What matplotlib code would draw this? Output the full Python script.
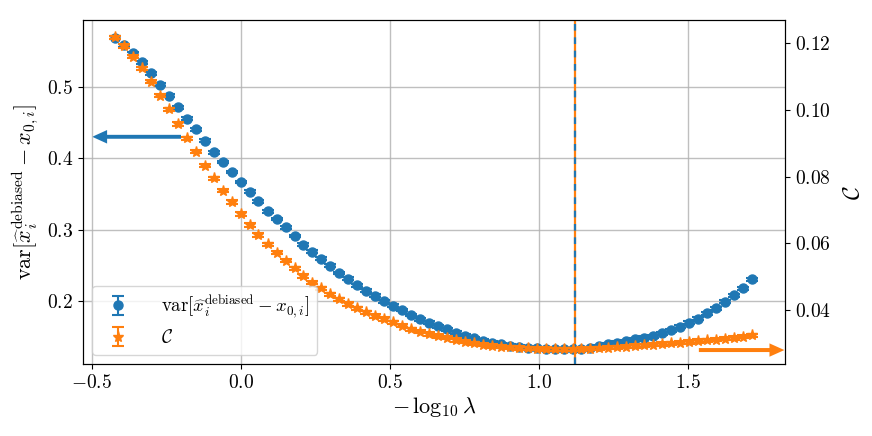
import numpy as np
import matplotlib
matplotlib.use("Agg")
import matplotlib.pyplot as plt
from matplotlib.ticker import FuncFormatter, FixedLocator

plt.rcParams['mathtext.fontset'] = 'cm'
plt.rcParams['font.family'] = ['serif']
plt.rcParams['font.serif'] = ['cmr10', 'DejaVu Serif']
plt.rcParams['axes.unicode_minus'] = False

# -log10(lambda) grid
x = [-0.421, -0.391, -0.361, -0.331, -0.301, -0.271, -0.240, -0.210, -0.180, -0.150,
     -0.120, -0.090, -0.060, -0.030, 0.000, 0.030, 0.060, 0.091, 0.121, 0.151,
     0.181, 0.211, 0.241, 0.271, 0.301, 0.331, 0.361, 0.392, 0.422, 0.452,
     0.482, 0.512, 0.542, 0.572, 0.602, 0.632, 0.662, 0.693, 0.723, 0.753,
     0.783, 0.813, 0.843, 0.873, 0.903, 0.933, 0.963, 0.994, 1.024, 1.054,
     1.084, 1.114, 1.144, 1.174, 1.204, 1.234, 1.264, 1.295, 1.325, 1.355,
     1.385, 1.415, 1.445, 1.475, 1.505, 1.535, 1.565, 1.596, 1.626, 1.656,
     1.686, 1.716]

# var[x_hat^debiased - x0] (left axis)
var_vals = [0.570, 0.559, 0.548, 0.535, 0.520, 0.504, 0.488, 0.472, 0.456, 0.441,
            0.425, 0.409, 0.395, 0.381, 0.367, 0.353, 0.340, 0.326, 0.315, 0.303,
            0.291, 0.279, 0.269, 0.259, 0.249, 0.239, 0.231, 0.222, 0.214, 0.207,
            0.199, 0.193, 0.187, 0.180, 0.174, 0.169, 0.164, 0.160, 0.155, 0.151,
            0.147, 0.144, 0.141, 0.1385, 0.1366, 0.1352, 0.1338, 0.1329, 0.1322, 0.1318,
            0.1316, 0.1316, 0.1320, 0.1335, 0.1360, 0.1385, 0.1408, 0.1428, 0.1456, 0.1478,
            0.1502, 0.1540, 0.1586, 0.1633, 0.1689, 0.1745, 0.1821, 0.1892, 0.1985, 0.2079,
            0.2173, 0.2300]
var_err = 0.002

# C (right axis)
c_vals = [0.1218, 0.1192, 0.1160, 0.1125, 0.1085, 0.1043, 0.1002, 0.0958, 0.0915, 0.0875,
          0.0833, 0.0795, 0.0758, 0.0724, 0.0688, 0.0655, 0.0625, 0.0597, 0.0572, 0.0548,
          0.0525, 0.0502, 0.0482, 0.0465, 0.0447, 0.0432, 0.0418, 0.0405, 0.0393, 0.0382,
          0.0373, 0.0363, 0.0353, 0.0342, 0.0335, 0.0328, 0.0322, 0.0317, 0.0310, 0.0305,
          0.0300, 0.0296, 0.0292, 0.0290, 0.0288, 0.0286, 0.0285, 0.0284, 0.0283, 0.0282,
          0.0282, 0.0282, 0.0283, 0.0284, 0.0285, 0.0287, 0.0288, 0.0290, 0.0292, 0.0294,
          0.0296, 0.0298, 0.0300, 0.0302, 0.0304, 0.0307, 0.0309, 0.0311, 0.0314, 0.0316,
          0.0320, 0.0324]
c_err = 0.0005

x_opt = 1.121
left_ticks = [0.2, 0.3, 0.4, 0.5]
right_ticks = [0.04, 0.06, 0.08, 0.10, 0.12]
x_ticks = [-0.5, 0.0, 0.5, 1.0, 1.5]

label_var = r'$\mathrm{var}[\widehat{x}_i^{\mathrm{debiased}} - x_{0,i}]$'
label_c = r'$\mathcal{C}$'

blue = '#1f77b4'
orange = '#ff7f0e'

fig = plt.figure(figsize=(8.72, 4.36), dpi=100)
ax = fig.add_axes([0.0948, 0.165, 0.9002 - 0.0948, 0.953 - 0.165])
ax2 = ax.twinx()

h1 = ax.errorbar(x, var_vals, yerr=var_err, fmt='o', color=blue, ms=6.5,
                 capsize=4, elinewidth=1.5, capthick=1.5, label=label_var)
h2 = ax2.errorbar(x, c_vals, yerr=c_err, fmt='*', color=orange, ms=8,
                  capsize=4, elinewidth=1.5, capthick=1.5, label=label_c)

ax2.axvline(x_opt, color=orange, lw=1.6)
ax2.axvline(x_opt, color=blue, lw=1.6, dashes=(3, 3))

ax.set_xlim(-0.530, 1.827)
ax.set_ylim(0.111, 0.594)
ax2.set_ylim(0.0238, 0.1268)

ax.xaxis.set_major_locator(FixedLocator(x_ticks))
ax.yaxis.set_major_locator(FixedLocator(left_ticks))
ax2.yaxis.set_major_locator(FixedLocator(right_ticks))
ax.xaxis.set_major_formatter(FuncFormatter(lambda v, p: f'${v:.1f}$'))
ax.yaxis.set_major_formatter(FuncFormatter(lambda v, p: f'${v:.1f}$'))
ax2.yaxis.set_major_formatter(FuncFormatter(lambda v, p: f'${v:.2f}$'))
for a in (ax, ax2):
    a.tick_params(labelsize=14)

ax.grid(True, color='#b0b0b0', lw=1.0, alpha=0.8)

ax.set_xlabel(r'$-\,\log_{10}\lambda$', fontsize=16, labelpad=2)
ax.set_ylabel(label_var, fontsize=16, labelpad=4)
ax2.set_ylabel(label_c, fontsize=17, labelpad=8)

# arrows
ax.arrow(-0.2, 0.4305, -0.298, 0, width=0.0055, head_width=0.019,
         head_length=0.05, length_includes_head=True, color=blue, lw=0)
ax2.arrow(1.538, 0.028, 0.287, 0, width=0.0012, head_width=0.0040,
          head_length=0.05, length_includes_head=True, color=orange, lw=0,
          clip_on=False)

ax2.legend([h1, h2], [label_var, label_c], loc='lower left', fontsize=13.5,
           handletextpad=1.3, framealpha=0.8)

fig.savefig('out.png', dpi=100)
